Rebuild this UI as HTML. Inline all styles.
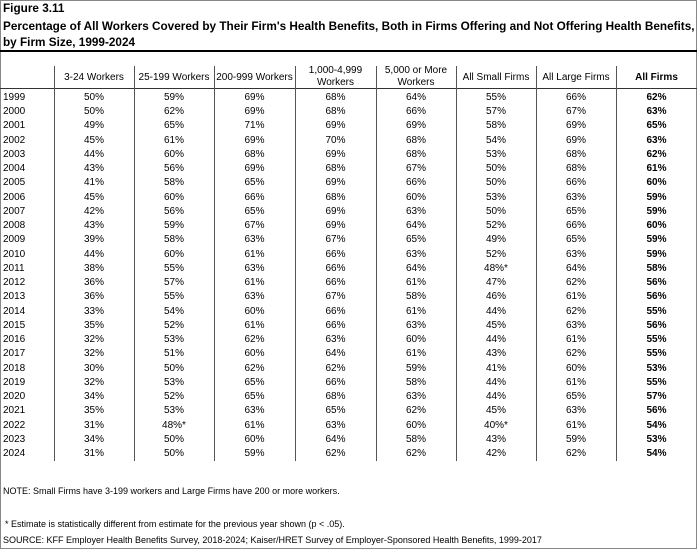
<!DOCTYPE html>
<html><head><meta charset="utf-8"><style>
body{margin:0;width:697px;height:550px;background:#fff;position:relative;overflow:hidden;font-family:"Liberation Sans",Arial,sans-serif;color:#000}
.box{position:absolute;left:0;top:0;width:695px;height:547px;border:1px solid #888}
.t{position:absolute;white-space:nowrap;font-size:10px;line-height:12px}
.c{text-align:center}
.v{position:absolute;width:1px;background:#555;top:66px;height:395px}
.tt{font-size:12px;font-weight:bold;line-height:15px;transform:scaleX(0.98);transform-origin:left}
</style></head><body>
<div class="box"></div>
<div class="t tt" style="left:3px;top:1px">Figure 3.11</div>
<div class="t tt" style="left:3px;top:19px">Percentage of All Workers Covered by Their Firm's Health Benefits, Both in Firms Offering and Not Offering Health Benefits,</div>
<div class="t tt" style="left:3px;top:35px">by Firm Size, 1999-2024</div>
<div style="position:absolute;left:0;top:50px;width:697px;height:2px;background:#000"></div>
<div style="position:absolute;left:0;top:88px;width:697px;height:1px;background:#333"></div>
<div id="g"></div>
<div class="t" style="left:3px;top:485px;font-size:9px">NOTE: Small Firms have 3-199 workers and Large Firms have 200 or more workers.</div>
<div class="t" style="left:5px;top:518px;font-size:9px">* Estimate is statistically different from estimate for the previous year shown (p &lt; .05).</div>
<div class="t" style="left:3px;top:534px;font-size:9px">SOURCE: KFF Employer Health Benefits Survey, 2018-2024; Kaiser/HRET Survey of Employer-Sponsored Health Benefits, 1999-2017</div>
<script>
var xs=[54,134,214,295,376,456,536,616,697];
var hd=["3-24 Workers","25-199 Workers","200-999 Workers","1,000-4,999<br>Workers","5,000 or More<br>Workers","All Small Firms","All Large Firms","<b>All Firms</b>"];
var d=`1999 50 59 69 68 64 55 66 62
2000 50 62 69 68 66 57 67 63
2001 49 65 71 69 69 58 69 65
2002 45 61 69 70 68 54 69 63
2003 44 60 68 69 68 53 68 62
2004 43 56 69 68 67 50 68 61
2005 41 58 65 69 66 50 66 60
2006 45 60 66 68 60 53 63 59
2007 42 56 65 69 63 50 65 59
2008 43 59 67 69 64 52 66 60
2009 39 58 63 67 65 49 65 59
2010 44 60 61 66 63 52 63 59
2011 38 55 63 66 64 48* 64 58
2012 36 57 61 66 61 47 62 56
2013 36 55 63 67 58 46 61 56
2014 33 54 60 66 61 44 62 55
2015 35 52 61 66 63 45 63 56
2016 32 53 62 63 60 44 61 55
2017 32 51 60 64 61 43 62 55
2018 30 50 62 62 59 41 60 53
2019 32 53 65 66 58 44 61 55
2020 34 52 65 68 63 44 65 57
2021 35 53 63 65 62 45 63 56
2022 31 48* 61 63 60 40* 61 54
2023 34 50 60 64 58 43 59 53
2024 31 50 59 62 62 42 62 54`.split("\n");
var h="";
for(var i=0;i<8;i++){h+='<div class="v" style="left:'+xs[i]+'px"></div>';
var two=hd[i].indexOf("<br>")>0;
h+='<div class="t c" style="left:'+xs[i]+'px;width:'+(xs[i+1]-xs[i])+'px;top:'+(two?65:72)+'px">'+hd[i]+'</div>';}
d.forEach(function(r,j){var c=r.split(" ");var y=92+j*14.24;
h+='<div class="t" style="left:3px;top:'+y+'px">'+c[0]+'</div>';
for(var i=1;i<9;i++){var s=c[i].replace("*","%*");if(s.indexOf("%")<0)s+="%";
if(i==8)s="<b>"+s+"</b>";
h+='<div class="t c" style="left:'+xs[i-1]+'px;width:'+(xs[i]-xs[i-1])+'px;top:'+y+'px">'+s+'</div>';}});
document.getElementById("g").innerHTML=h;
</script>
</body></html>
